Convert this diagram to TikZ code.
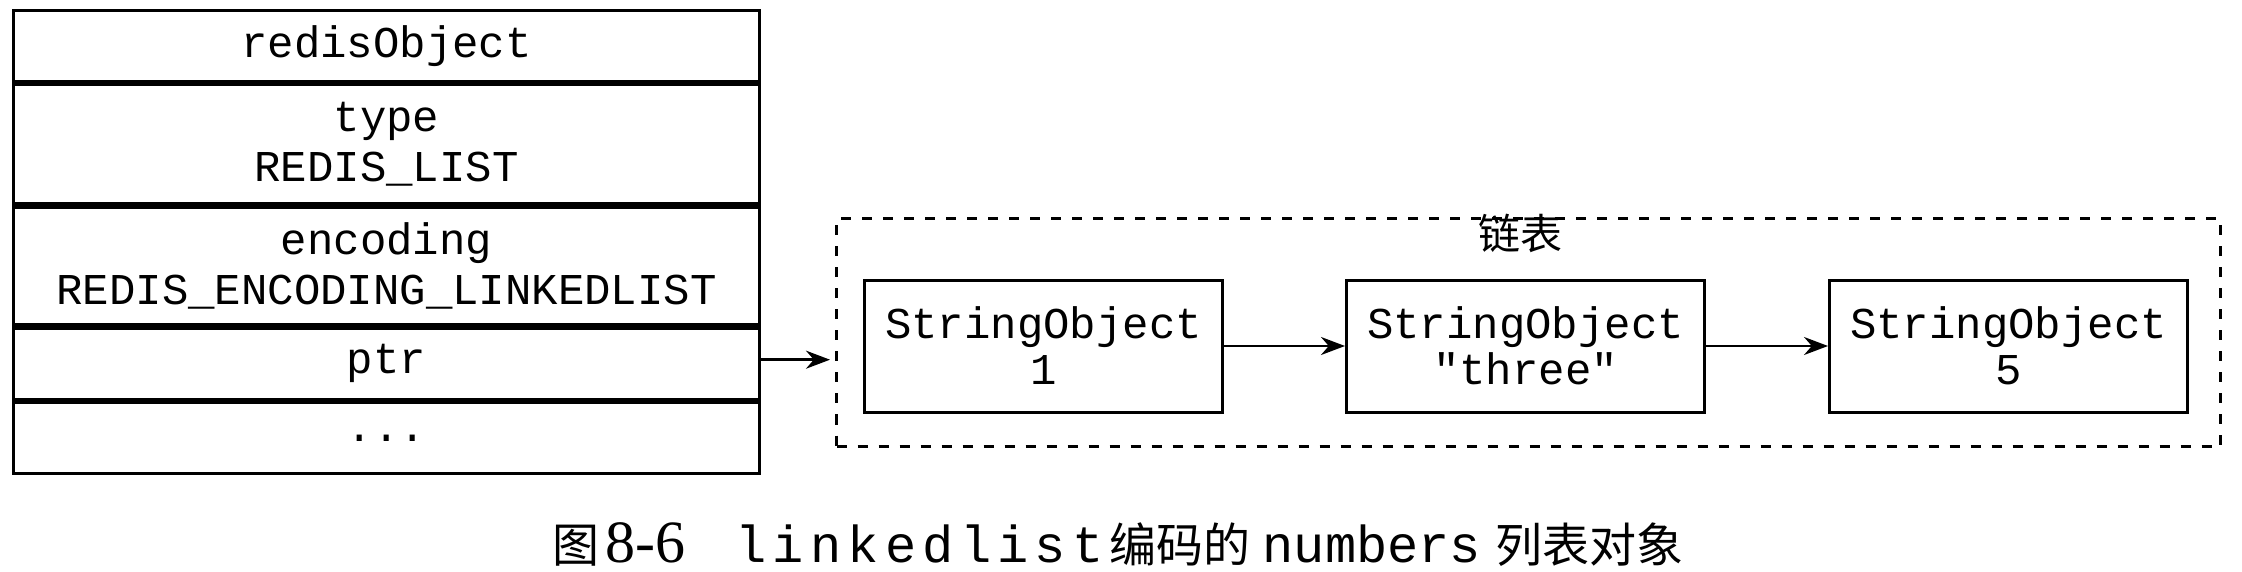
\documentclass[tikz,border=0pt]{standalone}
\usepackage{fontspec}
\setmainfont{Liberation Serif}
\setmonofont{Liberation Mono}
\newfontfamily\cjk{Noto Sans CJK SC}
\newfontfamily\captt[LetterSpace=12]{Liberation Mono}
\usetikzlibrary{arrows.meta}
\begin{document}
\begin{tikzpicture}[x=0.5pt,y=-0.5pt,
  cell/.style={draw,line width=1.6pt,minimum width=373pt,inner sep=0pt,
    align=center,anchor=north west,font=\fontsize{22}{25}\selectfont\ttfamily},
  objbox/.style={draw,line width=1.5pt,minimum width=179pt,minimum height=66pt,
    inner sep=0pt,align=center,font=\fontsize{22}{23}\selectfont\ttfamily},
  groupbox/.style={draw,line width=1.5pt,dash pattern=on 5pt off 5.5pt,
    inner sep=0pt,anchor=north west},
  arr/.style={line width=1.3pt,-{Stealth[length=12pt,width=9pt]}}]
\useasboundingbox (0,0) rectangle (2242,572);
% redisObject table
\node[cell,minimum height=35.5pt] (r0) at (12,9) {redisObject};
\node[cell,minimum height=59.5pt] (r1) at (r0.south west) {type\\REDIS\_LIST};
\node[cell,minimum height=59pt] (r2) at (r1.south west) {encoding\\REDIS\_ENCODING\_LINKEDLIST};
\node[cell,minimum height=35.5pt] (r3) at (r2.south west) {ptr};
\node[cell,minimum height=35.5pt] (r4) at (r3.south west) {...};
% linked list group
\node[groupbox,minimum width=692pt,minimum height=114pt] (grp) at (835,217) {};
\node[font=\cjk\fontsize{21}{24}\selectfont,inner sep=0pt] (lbl) at (1520,233) {链表};
\node[objbox] (s1) at (1043.5,346) {StringObject\\1};
\node[objbox] (s2) at (1525.5,346) {StringObject\\"three"};
\node[objbox] (s3) at (2008.5,346) {StringObject\\5};
\coordinate (a0) at ([yshift=2pt]r3.east);
\draw[arr,shorten >=2.5pt] (a0) -- (a0 -| grp.west);
\draw[arr] (s1.east) -- (s2.west);
\draw[arr] (s2.east) -- (s3.west);
% caption
\node[anchor=base west,inner sep=0pt] (cap) at (552,562) {{\cjk\fontsize{23.5}{26}\selectfont 图}\hspace{3pt}{\fontsize{30}{32}\selectfont 8-6}\hspace{25pt}{\captt\fontsize{26}{28}\selectfont linkedlist}\hspace{3pt}{\cjk\fontsize{23.5}{26}\selectfont 编码的}\hspace{6pt}{\ttfamily\fontsize{26}{28}\selectfont numbers}\hspace{7pt}{\cjk\fontsize{23.5}{26}\selectfont 列表对象}};
\end{tikzpicture}
\end{document}
